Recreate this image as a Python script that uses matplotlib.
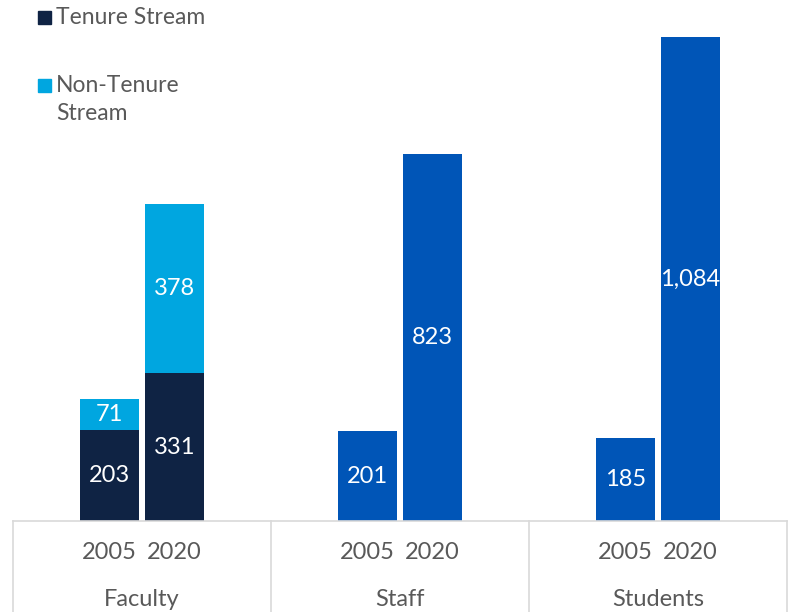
import matplotlib.pyplot as plt
from matplotlib.patches import Rectangle

plt.rcParams['font.family'] = ['Lato', 'DejaVu Sans']

# data
groups = ['Faculty', 'Staff', 'Students']
years = ['2005', '2020']
tenure = [203, 331]          # faculty, tenure stream
non_tenure = [71, 378]       # faculty, non-tenure stream
staff = [201, 823]
students = [185, 1084]

c_tenure = '#0F2344'
c_nontenure = '#00A6E0'
c_blue = '#0055B7'
c_grid = '#D9D9D9'
c_text = '#595959'

fig = plt.figure(figsize=(7.92, 6.12), dpi=100)
ax = fig.add_axes([13/792, 91/612, 774/792, 484/612])

off = 0.126
w = 0.225

def fmt(v):
    return '{:,}'.format(v)

def label(x, bottom, v):
    ax.text(x, bottom + v/2, fmt(v), ha='center', va='center', color='white', fontsize=17)

# faculty stacked
for i in range(2):
    x = 0.5 + (-off if i == 0 else off)
    ax.bar(x, tenure[i], w, color=c_tenure)
    ax.bar(x, non_tenure[i], w, bottom=tenure[i], color=c_nontenure)
    label(x, 0, tenure[i])
    label(x, tenure[i], non_tenure[i])

# staff and students
for g, vals in [(1, staff), (2, students)]:
    for i in range(2):
        x = g + 0.5 + (-off if i == 0 else off)
        ax.bar(x, vals[i], w, color=c_blue)
        label(x, 0, vals[i])

ax.set_xlim(0, 3)
ax.set_ylim(0, 1084)
ax.axis('off')

# category table below the axis
trans = ax.get_xaxis_transform()
ax.plot([0, 3], [0, 0], color=c_grid, lw=1.2, transform=trans, clip_on=False)
for xv in [0, 1, 2, 3]:
    ax.plot([xv, xv], [0, -0.2], color=c_grid, lw=1.2, transform=trans, clip_on=False)
for g in range(3):
    for i in range(2):
        x = g + 0.5 + (-off if i == 0 else off)
        ax.text(x, -0.066, years[i], ha='center', va='center', color=c_text,
                fontsize=17, transform=trans)
    ax.text(g + 0.5, -0.163, groups[g], ha='center', va='center', color=c_text,
            fontsize=17, transform=trans)

# legend
fig.patches.append(Rectangle((38/792, 1 - 24/612), 13/792, 13/612, color=c_tenure,
                             transform=fig.transFigure))
fig.text(56/792, 1 - 18/612, 'Tenure Stream', ha='left', va='center', color=c_text, fontsize=16.5)
fig.patches.append(Rectangle((38/792, 1 - 92/612), 13/792, 13/612, color=c_nontenure,
                             transform=fig.transFigure))
fig.text(56/792, 1 - 86/612, 'Non-Tenure', ha='left', va='center', color=c_text, fontsize=16.5)
fig.text(56/792, 1 - 114/612, 'Stream', ha='left', va='center', color=c_text, fontsize=16.5)

fig.savefig('out.png', dpi=100)
